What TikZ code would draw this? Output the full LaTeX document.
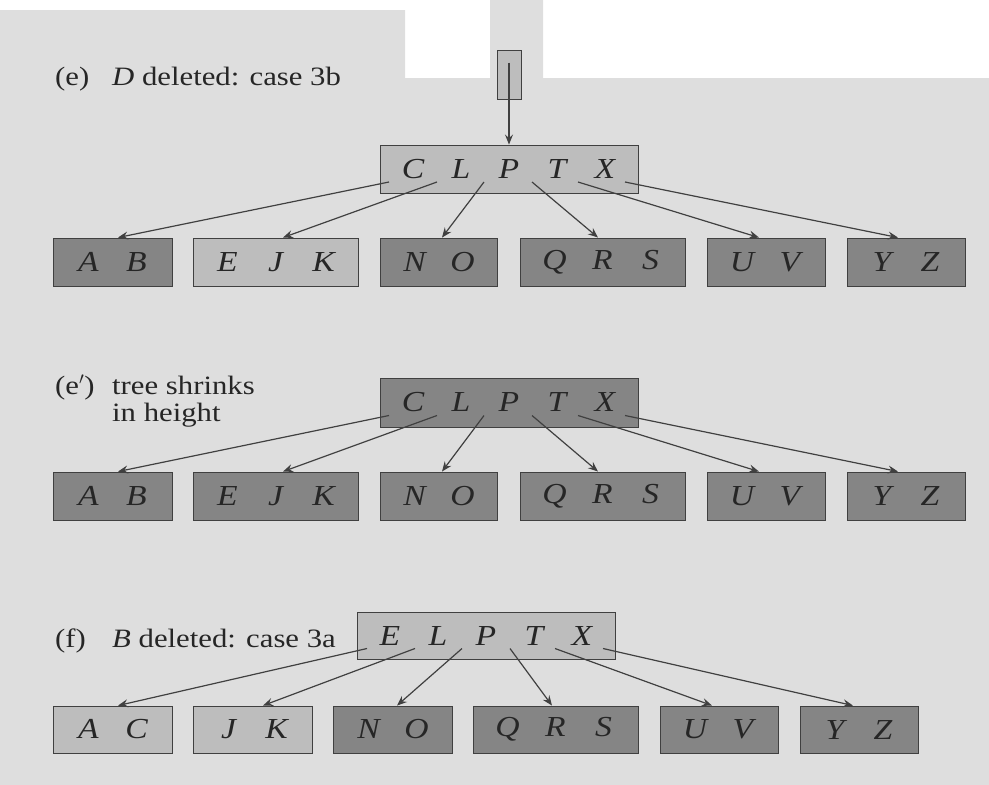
\documentclass[tikz,border=0pt]{standalone}
\usepackage{fontspec}
\setmainfont{Liberation Serif}[FakeStretch=1.16]
\usetikzlibrary{arrows.meta,calc}
\definecolor{bgc}{gray}{0.87}
\definecolor{lightbox}{gray}{0.74}
\definecolor{darkbox}{gray}{0.52}
\definecolor{edge}{gray}{0.25}
\newcommand{\kk}[1]{\makebox[48pt]{\itshape #1}}
\begin{document}
\begin{tikzpicture}[x=1pt,y=-1pt,
  keybox/.style={draw=edge, line width=0.9pt, minimum height=48pt, inner sep=0pt, font=\fontsize{29}{31}\selectfont, text=black!85},
  lt/.style={keybox, fill=lightbox},
  dk/.style={keybox, fill=darkbox},
  ptr/.style={draw=edge, line width=1.2pt, -{Stealth[length=10pt,width=8pt,inset=3.5pt]}},
  lbl/.style={anchor=base west, inner sep=0pt, font=\fontsize{26.5}{27}\selectfont, text=black!85}
]
\useasboundingbox (0,0) rectangle (989,785);
\fill[bgc] (0,10) -- (405,10) -- (405,78) -- (490,78) -- (490,0) -- (543,0) -- (543,78) -- (989,78) -- (989,785) -- (0,785) -- cycle;

% ---------- (e) ----------
\node[lbl] (le) at (55,85) {\makebox[57pt][l]{(e)}\textit{D} deleted: case 3b};
\node[lt, minimum width=24pt, minimum height=49pt] (eptr) at (509,74.5) {};
\node[lt, minimum width=258pt] (eroot) at (509,169) {\kk{C}\kk{L}\kk{P}\kk{T}\kk{X}};
\node[dk, minimum width=119pt] (eAB) at (112.5,262) {\kk{A}\kk{B}};
\node[lt, minimum width=165pt] (eEJK) at (275.5,262) {\kk{E}\kk{J}\kk{K}};
\node[dk, minimum width=117pt] (eNO) at (438.5,262) {\kk{N}\kk{O}};
\node[dk, minimum width=165pt] (eQRS) at (602.5,262) {\kk{Q}\kk{R}\kk{S}};
\node[dk, minimum width=118pt] (eUV) at (766,262) {\kk{U}\kk{V}};
\node[dk, minimum width=118pt] (eYZ) at (906,262) {\kk{Y}\kk{Z}};
\draw[ptr] ([yshift=12pt]eptr.center) -- (eroot.north);
\coordinate (e0) at ($(eroot.center)+(-120,13)$);
\coordinate (e1) at ($(eroot.center)+(-72,13)$);
\coordinate (e2) at ($(eroot.center)+(-25,13)$);
\coordinate (e3) at ($(eroot.center)+(23,13)$);
\coordinate (e4) at ($(eroot.center)+(69,13)$);
\coordinate (e5) at ($(eroot.center)+(116,13)$);
\draw[ptr] (e0) -- ([xshift=5.5pt]eAB.north);
\draw[ptr] (e1) -- ([xshift=7.5pt]eEJK.north);
\draw[ptr] (e2) -- ([xshift=3.5pt]eNO.north);
\draw[ptr] (e3) -- ([xshift=-4.5pt]eQRS.north);
\draw[ptr] (e4) -- ([xshift=-7pt]eUV.north);
\draw[ptr] (e5) -- ([xshift=-8pt]eYZ.north);

% ---------- (e') ----------
\node[lbl] (lep) at (55,394) {\makebox[57pt][l]{(e$'$)}\begin{tabular}[t]{@{}l@{}}tree shrinks\\in height\end{tabular}};
\node[dk, minimum width=258pt, minimum height=49pt] (proot) at (509,402.5) {\kk{C}\kk{L}\kk{P}\kk{T}\kk{X}};
\node[dk, minimum width=119pt] (pAB) at (112.5,496) {\kk{A}\kk{B}};
\node[dk, minimum width=165pt] (pEJK) at (275.5,496) {\kk{E}\kk{J}\kk{K}};
\node[dk, minimum width=117pt] (pNO) at (438.5,496) {\kk{N}\kk{O}};
\node[dk, minimum width=165pt] (pQRS) at (602.5,496) {\kk{Q}\kk{R}\kk{S}};
\node[dk, minimum width=118pt] (pUV) at (766,496) {\kk{U}\kk{V}};
\node[dk, minimum width=118pt] (pYZ) at (906,496) {\kk{Y}\kk{Z}};
\coordinate (p0) at ($(proot.center)+(-120,13)$);
\coordinate (p1) at ($(proot.center)+(-72,13)$);
\coordinate (p2) at ($(proot.center)+(-25,13)$);
\coordinate (p3) at ($(proot.center)+(23,13)$);
\coordinate (p4) at ($(proot.center)+(69,13)$);
\coordinate (p5) at ($(proot.center)+(116,13)$);
\draw[ptr] (p0) -- ([xshift=5.5pt]pAB.north);
\draw[ptr] (p1) -- ([xshift=7.5pt]pEJK.north);
\draw[ptr] (p2) -- ([xshift=3.5pt]pNO.north);
\draw[ptr] (p3) -- ([xshift=-4.5pt]pQRS.north);
\draw[ptr] (p4) -- ([xshift=-7pt]pUV.north);
\draw[ptr] (p5) -- ([xshift=-8pt]pYZ.north);

% ---------- (f) ----------
\node[lbl] (lf) at (55,647) {\makebox[57pt][l]{(f)}\textit{B} deleted: case 3a};
\node[lt, minimum width=258pt, minimum height=47pt] (froot) at (486,635.5) {\kk{E}\kk{L}\kk{P}\kk{T}\kk{X}};
\node[lt, minimum width=119pt, minimum height=47pt] (fAC) at (112.5,729.5) {\kk{A}\kk{C}};
\node[lt, minimum width=119pt, minimum height=47pt] (fJK) at (252.5,729.5) {\kk{J}\kk{K}};
\node[dk, minimum width=119pt, minimum height=47pt] (fNO) at (392.5,729.5) {\kk{N}\kk{O}};
\node[dk, minimum width=165pt, minimum height=47pt] (fQRS) at (555.5,729.5) {\kk{Q}\kk{R}\kk{S}};
\node[dk, minimum width=118pt, minimum height=47pt] (fUV) at (719,729.5) {\kk{U}\kk{V}};
\node[dk, minimum width=118pt, minimum height=47pt] (fYZ) at (859,729.5) {\kk{Y}\kk{Z}};
\coordinate (f0) at ($(froot.center)+(-119,13)$);
\coordinate (f1) at ($(froot.center)+(-71,13)$);
\coordinate (f2) at ($(froot.center)+(-24,13)$);
\coordinate (f3) at ($(froot.center)+(24,13)$);
\coordinate (f4) at ($(froot.center)+(69,13)$);
\coordinate (f5) at ($(froot.center)+(117,13)$);
\draw[ptr] (f0) -- ([xshift=5.5pt]fAC.north);
\draw[ptr] (f1) -- ([xshift=10.5pt]fJK.north);
\draw[ptr] (f2) -- ([xshift=4.5pt]fNO.north);
\draw[ptr] (f3) -- ([xshift=-3.5pt]fQRS.north);
\draw[ptr] (f4) -- ([xshift=-7pt]fUV.north);
\draw[ptr] (f5) -- ([xshift=-6pt]fYZ.north);
\end{tikzpicture}
\end{document}
